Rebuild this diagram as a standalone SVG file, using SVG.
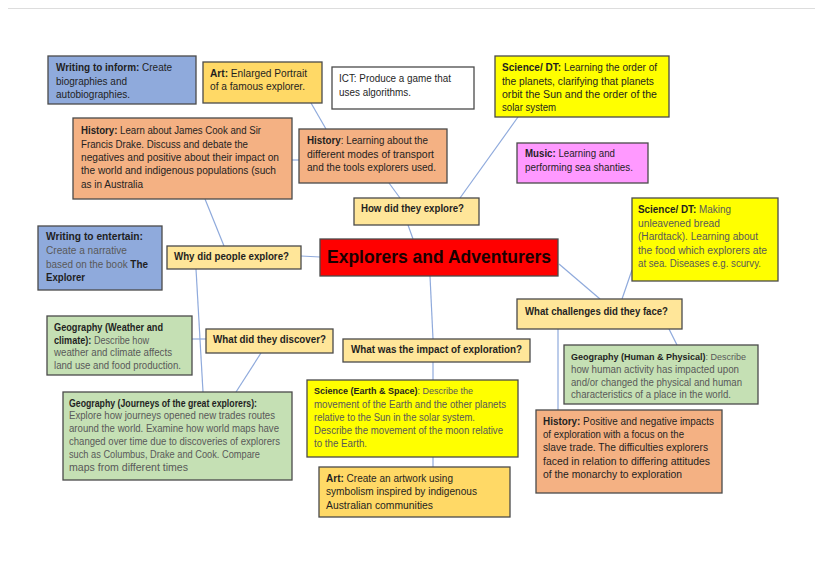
<svg xmlns="http://www.w3.org/2000/svg" width="822" height="582" viewBox="0 0 822 582">
<defs>
<style>
.box{stroke:#4a4a4a;stroke-width:1.3}
.blue{fill:#8FAADC}.gold{fill:#FFD966}.lgold{fill:#FFE699}.orange{fill:#F4B183}
.yellow{fill:#FFFF00}.pink{fill:#FF99FF}.green{fill:#C5E0B4}.red{fill:#FF0000}.white{fill:#FFFFFF}
text{font-family:"Liberation Sans",Arial,sans-serif;font-size:10px;fill:#1f1f1f}
.g{fill:#595959}
.b{font-weight:bold;fill:#1f1f1f}
.s9{font-size:9px}
.q{font-weight:bold;font-size:11px}
.title{font-weight:bold;font-size:19px;fill:#1a0000}
.conn line{stroke:#8FAADC;stroke-width:1.2}
</style>
</defs>
<rect width="822" height="582" fill="#FFFFFF"/>
<line x1="8" y1="8.5" x2="815" y2="8.5" stroke="#DDDDDD" stroke-width="1"/>

<g id="connectors" class="conn">
<line x1="311" y1="103" x2="326" y2="129"/>
<line x1="292" y1="160" x2="299" y2="160"/>
<line x1="389" y1="183" x2="400" y2="198"/>
<line x1="518" y1="117" x2="460" y2="198"/>
<line x1="408" y1="225" x2="413" y2="239"/>
<line x1="205" y1="199" x2="224" y2="246"/>
<line x1="301" y1="256" x2="320" y2="257"/>
<line x1="196" y1="269" x2="203" y2="392"/>
<line x1="192" y1="339" x2="206" y2="339"/>
<line x1="261" y1="353" x2="236" y2="392"/>
<line x1="430" y1="276" x2="433" y2="339"/>
<line x1="433" y1="362" x2="433" y2="380"/>
<line x1="433" y1="457" x2="433" y2="467"/>
<line x1="559" y1="264" x2="600" y2="299"/>
<line x1="622" y1="299" x2="632" y2="270"/>
<line x1="669" y1="329" x2="677" y2="345"/>
<line x1="558" y1="329" x2="558" y2="410"/>
</g>

<g id="n-writing-inform">
<rect class="box blue" x="48" y="56" width="148" height="48"/>
<text x="56" y="71" textLength="116" lengthAdjust="spacingAndGlyphs"><tspan class="b">Writing to inform:</tspan> Create</text>
<text x="56" y="84.5" textLength="71" lengthAdjust="spacingAndGlyphs">biographies and</text>
<text x="56" y="98" textLength="74" lengthAdjust="spacingAndGlyphs">autobiographies.</text>
</g>

<g id="n-art-portrait">
<rect class="box gold" x="203" y="62" width="119" height="41"/>
<text x="210" y="77" textLength="97" lengthAdjust="spacingAndGlyphs"><tspan class="b">Art:</tspan> Enlarged Portrait</text>
<text x="210" y="90" textLength="95" lengthAdjust="spacingAndGlyphs">of a famous explorer.</text>
</g>

<g id="n-ict">
<rect class="box white" x="332" y="67" width="142" height="42"/>
<text x="339" y="82" textLength="112" lengthAdjust="spacingAndGlyphs">ICT: Produce a game that</text>
<text x="339" y="95.5" textLength="72" lengthAdjust="spacingAndGlyphs">uses algorithms.</text>
</g>

<g id="n-science-planets">
<rect class="box yellow" x="495" y="56" width="174" height="61"/>
<text x="502" y="71" textLength="155" lengthAdjust="spacingAndGlyphs"><tspan class="b">Science/ DT:</tspan> Learning the order of</text>
<text x="502" y="84.5" textLength="152" lengthAdjust="spacingAndGlyphs">the planets, clarifying that planets</text>
<text x="502" y="98" textLength="155" lengthAdjust="spacingAndGlyphs">orbit the Sun and the order of the</text>
<text x="502" y="111" textLength="54" lengthAdjust="spacingAndGlyphs">solar system</text>
</g>

<g id="n-history-cook">
<rect class="box orange" x="73" y="118" width="219" height="81"/>
<text x="81" y="134" textLength="180" lengthAdjust="spacingAndGlyphs"><tspan class="b">History:</tspan> Learn about James Cook and Sir</text>
<text x="81" y="147.5" textLength="167" lengthAdjust="spacingAndGlyphs">Francis Drake. Discuss and debate the</text>
<text x="81" y="161" textLength="198" lengthAdjust="spacingAndGlyphs">negatives and positive about their impact on</text>
<text x="81" y="174" textLength="195" lengthAdjust="spacingAndGlyphs">the world and indigenous populations (such</text>
<text x="81" y="187.5" textLength="62" lengthAdjust="spacingAndGlyphs">as in Australia</text>
</g>

<g id="n-history-transport">
<rect class="box orange" x="299" y="129" width="148" height="54"/>
<text x="307" y="144" textLength="121" lengthAdjust="spacingAndGlyphs"><tspan class="b">History</tspan>: Learning about the</text>
<text x="307" y="157.5" textLength="127" lengthAdjust="spacingAndGlyphs">different modes of transport</text>
<text x="307" y="171" textLength="129" lengthAdjust="spacingAndGlyphs">and the tools explorers used.</text>
</g>

<g id="n-music">
<rect class="box pink" x="517" y="143" width="131" height="40"/>
<text x="525" y="157" textLength="90" lengthAdjust="spacingAndGlyphs"><tspan class="b">Music:</tspan> Learning and</text>
<text x="525" y="171" textLength="108" lengthAdjust="spacingAndGlyphs">performing sea shanties.</text>
</g>

<g id="n-how">
<rect class="box lgold" x="354" y="198" width="125" height="27"/>
<text class="q" x="361" y="212" textLength="103" lengthAdjust="spacingAndGlyphs">How did they explore?</text>
</g>

<g id="n-center">
<rect class="box red" x="320" y="239" width="238" height="37"/>
<text class="title" x="327" y="263" textLength="224" lengthAdjust="spacingAndGlyphs">Explorers and Adventurers</text>
</g>

<g id="n-why">
<rect class="box lgold" x="167" y="246" width="134" height="23"/>
<text class="q" x="174" y="260" textLength="115" lengthAdjust="spacingAndGlyphs">Why did people explore?</text>
</g>

<g id="n-writing-entertain">
<rect class="box blue" x="38" y="226" width="124" height="64"/>
<text class="b" x="46" y="240" textLength="97" lengthAdjust="spacingAndGlyphs">Writing to entertain:</text>
<text class="g" x="46" y="254" textLength="81" lengthAdjust="spacingAndGlyphs">Create a narrative</text>
<text class="g" x="46" y="267.5" textLength="102" lengthAdjust="spacingAndGlyphs">based on the book <tspan class="b">The</tspan></text>
<text class="b" x="46" y="281" textLength="39" lengthAdjust="spacingAndGlyphs">Explorer</text>
</g>

<g id="n-science-hardtack">
<rect class="box yellow" x="632" y="198" width="146" height="83"/>
<text class="g" x="638" y="213" textLength="93" lengthAdjust="spacingAndGlyphs"><tspan class="b">Science/ DT:</tspan> Making</text>
<text class="g" x="638" y="226.5" textLength="82" lengthAdjust="spacingAndGlyphs">unleavened bread</text>
<text class="g" x="638" y="240" textLength="120" lengthAdjust="spacingAndGlyphs">(Hardtack). Learning about</text>
<text class="g" x="638" y="253.5" textLength="129" lengthAdjust="spacingAndGlyphs">the food which explorers ate</text>
<text class="g" x="638" y="267" textLength="123" lengthAdjust="spacingAndGlyphs">at sea. Diseases e.g. scurvy.</text>
</g>

<g id="n-challenges">
<rect class="box lgold" x="517" y="299" width="165" height="30"/>
<text class="q" x="525" y="315" textLength="143" lengthAdjust="spacingAndGlyphs">What challenges did they face?</text>
</g>

<g id="n-geo-weather">
<rect class="box green" x="47" y="316" width="145" height="59"/>
<text class="b" x="54" y="330.5" textLength="109" lengthAdjust="spacingAndGlyphs">Geography (Weather and</text>
<text class="g" x="54" y="343.5" textLength="95" lengthAdjust="spacingAndGlyphs"><tspan class="b">climate):</tspan> Describe how</text>
<text class="g" x="54" y="356" textLength="118" lengthAdjust="spacingAndGlyphs">weather and climate  affects</text>
<text class="g" x="54" y="369" textLength="127" lengthAdjust="spacingAndGlyphs">land use and food production.</text>
</g>

<g id="n-discover">
<rect class="box lgold" x="206" y="329" width="127" height="24"/>
<text class="q" x="213" y="343" textLength="113" lengthAdjust="spacingAndGlyphs">What did they discover?</text>
</g>

<g id="n-impact">
<rect class="box lgold" x="343" y="339" width="187" height="23"/>
<text class="q" x="351" y="353" textLength="171" lengthAdjust="spacingAndGlyphs">What was the impact of exploration?</text>
</g>

<g id="n-geo-human">
<rect class="box green" x="564" y="345" width="194" height="59"/>
<text class="g s9" x="571" y="359.5" textLength="175" lengthAdjust="spacingAndGlyphs"><tspan class="b">Geography (Human &amp; Physical)</tspan>: Describe</text>
<text class="g" x="571" y="373" textLength="168" lengthAdjust="spacingAndGlyphs">how human activity has impacted upon</text>
<text class="g" x="571" y="385.5" textLength="171" lengthAdjust="spacingAndGlyphs">and/or changed the physical and human</text>
<text class="g" x="571" y="398" textLength="160" lengthAdjust="spacingAndGlyphs">characteristics  of a place in the world.</text>
</g>

<g id="n-science-earth">
<rect class="box yellow" x="307" y="380" width="211" height="77"/>
<text class="g s9" x="314" y="393.5" textLength="159" lengthAdjust="spacingAndGlyphs"><tspan class="b">Science (Earth &amp; Space)</tspan>: Describe the</text>
<text class="g" x="314" y="407.5" textLength="192" lengthAdjust="spacingAndGlyphs">movement  of the Earth and the other planets</text>
<text class="g" x="314" y="420.5" textLength="161" lengthAdjust="spacingAndGlyphs">relative  to the Sun in the solar system.</text>
<text class="g" x="314" y="433.5" textLength="189" lengthAdjust="spacingAndGlyphs">Describe  the movement  of the moon relative</text>
<text class="g" x="314" y="446.5" textLength="53" lengthAdjust="spacingAndGlyphs">to the Earth.</text>
</g>

<g id="n-geo-journeys">
<rect class="box green" x="63" y="392" width="229" height="88"/>
<text class="b" x="69" y="406.5" textLength="188" lengthAdjust="spacingAndGlyphs">Geography (Journeys of the great explorers):</text>
<text class="g" x="69" y="419.3" textLength="206" lengthAdjust="spacingAndGlyphs">Explore  how journeys opened  new trades routes</text>
<text class="g" x="69" y="432" textLength="210" lengthAdjust="spacingAndGlyphs">around the world. Examine how world maps have</text>
<text class="g" x="69" y="444.8" textLength="211" lengthAdjust="spacingAndGlyphs">changed over time due to discoveries  of explorers</text>
<text class="g" x="69" y="457.5" textLength="191" lengthAdjust="spacingAndGlyphs">such as Columbus, Drake and Cook. Compare</text>
<text class="g" x="69" y="470.5" textLength="119" lengthAdjust="spacingAndGlyphs">maps from different times</text>
</g>

<g id="n-history-positive">
<rect class="box orange" x="536" y="410" width="186" height="83"/>
<text x="543" y="424.5" textLength="171" lengthAdjust="spacingAndGlyphs"><tspan class="b">History:</tspan> Positive and negative impacts</text>
<text x="543" y="438" textLength="141" lengthAdjust="spacingAndGlyphs">of exploration with a focus on the</text>
<text x="543" y="451.3" textLength="165" lengthAdjust="spacingAndGlyphs">slave trade. The difficulties explorers</text>
<text x="543" y="464.6" textLength="167" lengthAdjust="spacingAndGlyphs">faced in relation to differing attitudes</text>
<text x="543" y="478" textLength="139" lengthAdjust="spacingAndGlyphs">of the monarchy to exploration</text>
</g>

<g id="n-art-artwork">
<rect class="box gold" x="319" y="467" width="191" height="50"/>
<text x="326" y="481.5" textLength="127" lengthAdjust="spacingAndGlyphs"><tspan class="b">Art:</tspan> Create an artwork using</text>
<text x="326" y="495" textLength="151" lengthAdjust="spacingAndGlyphs">symbolism inspired by indigenous</text>
<text x="326" y="508.5" textLength="107" lengthAdjust="spacingAndGlyphs">Australian communities</text>
</g>
</svg>
